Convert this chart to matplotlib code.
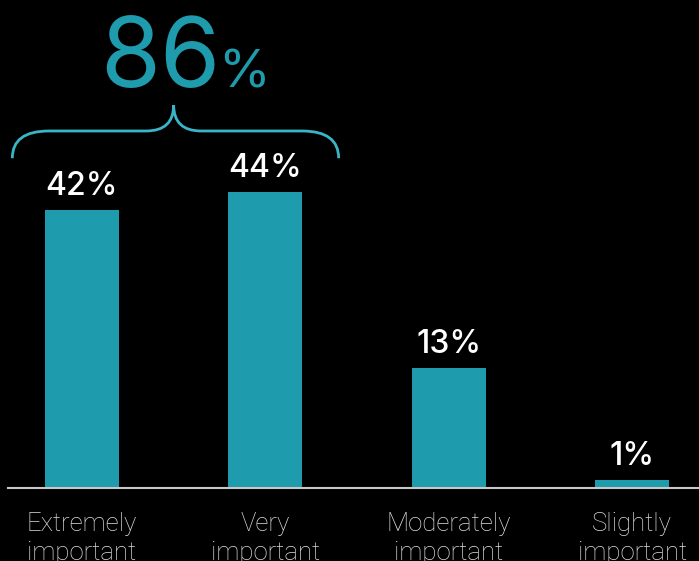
import matplotlib.pyplot as plt
from matplotlib.path import Path
from matplotlib.patches import PathPatch

categories = ['Extremely\nimportant', 'Very\nimportant', 'Moderately\nimportant', 'Slightly\nimportant']
values = [42, 44, 13, 1]
# bar heights as drawn in the picture (design does not follow a strict linear scale)
bar_heights = [41.8, 44.5, 18.0, 1.2]
total_label = '86'

teal = '#1e9bad'
brace_col = '#3ab4c7'

fig = plt.figure(figsize=(6.99, 5.61), dpi=100, facecolor='black')
ax = fig.add_axes([0, 0, 1, 1])
ax.set_facecolor('black')

x = list(range(len(categories)))
bars = ax.bar(x, bar_heights, width=0.404, color=teal, zorder=2)

ax.set_xlim(-0.447, 3.365)
ax.set_ylim(-10.98, 73.4)

# value labels
for b, v in zip(bars, values):
    ax.annotate(f'{v}%', (b.get_x() + b.get_width() / 2, b.get_height()),
                xytext=(0, 6), textcoords='offset points', ha='center', va='bottom',
                color='white', fontsize=23, family='Inter', fontweight='medium')

# baseline
ax.axhline(0, xmin=0.011, xmax=1, color='#c8c8c8', lw=1.5, zorder=3)

# category labels, ticks sit on the zero line
ax.spines['bottom'].set_position(('data', 0))
ax.set_xticks(x, categories)
ax.tick_params(axis='x', length=0, pad=17, colors='#dddddd')
for lab in ax.get_xticklabels():
    lab.set_family('Roboto')
    lab.set_fontweight('light')
    lab.set_fontsize(18.5)
    lab.set_linespacing(1.27)
ax.set_yticks([])
for s in ax.spines.values():
    s.set_visible(False)

# brace over the first two bars
x0, x1 = -0.38, 1.40
xc = (x[0] + x[1]) / 2
y_end, y_mid, y_peak = 49.6, 53.7, 57.6
verts = [
    (x0, y_end), (x0, y_mid), (x0 + 0.2, y_mid),
    (xc - 0.15, y_mid), (xc, y_mid), (xc, y_peak),
    (xc, y_mid), (xc + 0.15, y_mid),
    (x1 - 0.2, y_mid), (x1, y_mid), (x1, y_end),
]
codes = [Path.MOVETO, Path.CURVE3, Path.CURVE3,
         Path.LINETO, Path.CURVE3, Path.CURVE3,
         Path.CURVE3, Path.CURVE3,
         Path.LINETO, Path.CURVE3, Path.CURVE3]
ax.add_patch(PathPatch(Path(verts, codes), fill=False, edgecolor=brace_col, lw=2, zorder=3))

# big total
ax.text(0.757, 60.3, total_label, ha='right', va='baseline', color=teal,
        fontsize=70, family='Inter')
ax.text(0.745, 60.3, '%', ha='left', va='baseline', color=teal,
        fontsize=38, family='Inter')

fig.savefig('out.png', dpi=100, facecolor='black')
